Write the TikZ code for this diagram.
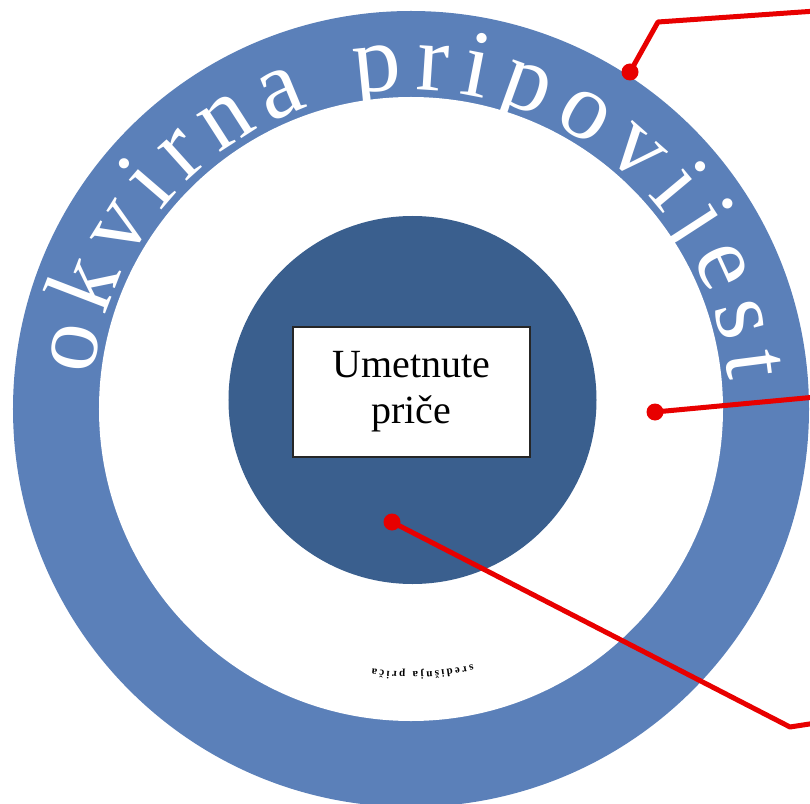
\documentclass[tikz,border=0pt]{standalone}
\usepackage{fontspec}
\setmainfont{Liberation Serif}
\usetikzlibrary{decorations.text}
\definecolor{ringblue}{RGB}{91,128,185}
\definecolor{coreblue}{RGB}{58,95,142}
\definecolor{pointred}{RGB}{232,0,0}
\tikzset{
    pointer/.style={pointred, line width=5pt, line join=round},
    pointdot/.style={circle, fill=pointred, inner sep=0pt, minimum size=17pt},
    storybox/.style={draw=black!85, line width=1.5pt, fill=white, minimum width=237pt,
        minimum height=130pt, align=center, font=\fontsize{40}{46}\selectfont},
}
\begin{document}
\begin{tikzpicture}[x=1pt,y=1pt]
    \useasboundingbox (-411,-394) rectangle (399,409);
    \clip (-411,-394) rectangle (399,409);
    \coordinate (c) at (0,0);
    \fill[ringblue] (c) circle[radius=398];
    \fill[white] (c) circle[radius=312];
    \fill[coreblue] (1.5,9) circle[radius=184];
    \node[storybox] (umetnute) at (0.5,17) {Umetnute\\priče};
    \path[decorate, decoration={text along path, text align=fit to path,
        text={|\fontsize{96}{96}\selectfont\color{white}|okvirna pripovijest}}]
        (174:319) arc[start angle=174, end angle=5, radius=319];
    \path[decorate, decoration={text along path, text align=fit to path,
        text={|\fontsize{11}{11}\selectfont\bfseries|središnja priča}}]
        (-76.4:263) arc[start angle=-76.4, end angle=-98.5, radius=263];
    \coordinate (k1) at (247,387);
    \coordinate (e1) at (405,398);
    \coordinate (e2) at (405,12);
    \coordinate (k3) at (379,-318);
    \coordinate (e3) at (405,-314);
    \draw[pointer] (219,337) -- (k1) -- (e1);
    \draw[pointer] (244,-3) -- (e2);
    \draw[pointer] (-19,-113) -- (k3) -- (e3);
    \node[pointdot] (okvir) at (219,337) {};
    \node[pointdot] (sredina) at (244,-3) {};
    \node[pointdot] (umetak) at (-19,-113) {};
\end{tikzpicture}
\end{document}
